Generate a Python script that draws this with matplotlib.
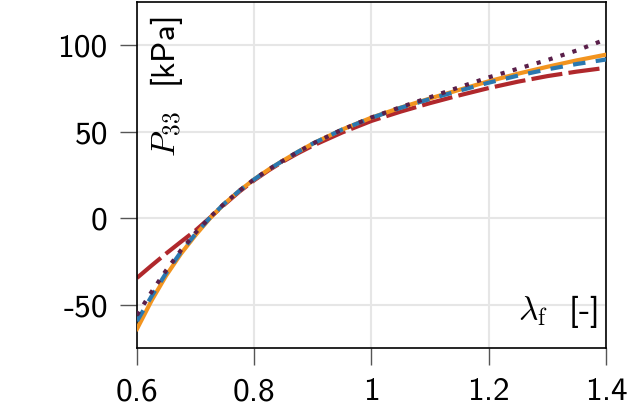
import numpy as np
import matplotlib
matplotlib.use("Agg")
import matplotlib.pyplot as plt

# Values
stretch = [0.6, 0.625, 0.65, 0.675, 0.7, 0.725, 0.75, 0.775, 0.8, 0.825,
           0.85, 0.875, 0.9, 0.95, 1.0, 1.05, 1.1, 1.15, 1.2, 1.25,
           1.3, 1.35, 1.4]
p_orange = [-64, -47.5, -33, -20.5, -9.7, 0.2, 8.7, 16, 22.5, 28.3,
            33.5, 38.5, 43.2, 51.3, 58.2, 64.0, 69.3, 74.3, 79.2, 83.6,
            87.6, 91.3, 94.6]
p_blue = [-59.5, -45, -31.5, -19.5, -9, 0.5, 8.8, 16, 22.5, 28.3,
          33.5, 38.5, 43.2, 51.3, 58.1, 63.9, 69.0, 73.8, 78.4, 82.5,
          86.1, 89.2, 91.8]
p_purple = [-56, -42.5, -30, -18.5, -8.3, 0.8, 8.8, 16, 22.6, 28.3,
            33.5, 38.5, 43.2, 51.3, 58.3, 64.3, 70.0, 75.8, 81.5, 86.5,
            91.5, 97.0, 103.5]
p_red = [-34.5, -27.3, -20.3, -13.6, -7, 0.5, 8.2, 15.5, 22, 27.8,
         33, 37.7, 42, 49.6, 56.3, 61.7, 66.6, 71.1, 75.3, 79,
         82.2, 84.8, 87]

xticks = [0.6, 0.8, 1.0, 1.2, 1.4]
xticklabels = ["0.6", "0.8", "1", "1.2", "1.4"]
yticks = [-50, 0, 50, 100]
yticklabels = ["-50", "0", "50", "100"]

plt.rcParams["font.family"] = "cmss10"
plt.rcParams["mathtext.fontset"] = "cm"
plt.rcParams["axes.unicode_minus"] = False
plt.rcParams["axes.formatter.use_mathtext"] = True

fig = plt.figure(figsize=(6.44, 4.19), dpi=100)
ax = fig.add_axes([0.2127, 0.1695, 0.7283, 0.8255])

lw = 3
ax.plot(stretch, p_red, color="#b0282c", lw=lw, dashes=(7.5, 1.5), zorder=2)
ax.plot(stretch, p_orange, color="#f2941f", lw=lw, zorder=3)
ax.plot(stretch, p_blue, color="#2a78b0", lw=lw, dashes=(3, 2.5), zorder=4)
ax.plot(stretch, p_purple, color="#5a1f4a", lw=lw, dashes=(1, 2), zorder=5)

ax.set_xlim(0.6, 1.4)
ax.set_ylim(-75, 125)
ax.set_xticks(xticks)
ax.set_xticklabels(xticklabels)
ax.set_yticks(yticks)
ax.set_yticklabels(yticklabels)
ax.tick_params(direction="out", length=12, width=1, color="#555555",
               labelsize=24, pad=9)

ax.grid(True, color="#e6e6e6", lw=1.5)
ax.set_axisbelow(True)
for s in ax.spines.values():
    s.set_linewidth(1.2)

ax.text(0.023, 0.957, r"$P_{33}$  [kPa]", transform=ax.transAxes,
        rotation=90, ha="left", va="top", fontsize=24)
ax.text(0.983, 0.052, r"$\lambda_\mathrm{f}$  [-]", transform=ax.transAxes,
        ha="right", va="bottom", fontsize=24)

fig.savefig("out.png", dpi=100)
